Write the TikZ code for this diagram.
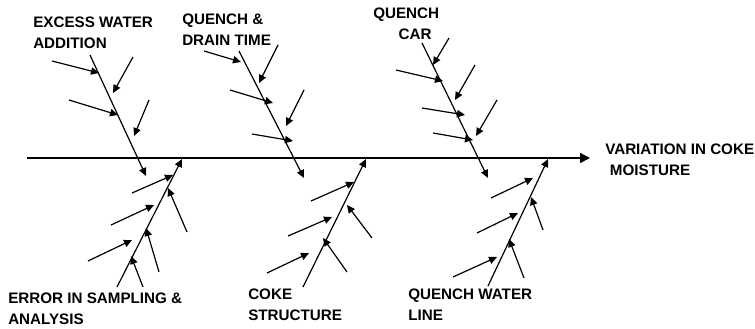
\documentclass[tikz,border=0pt]{standalone}
\usepackage{fontspec}
\setmainfont{Liberation Sans}
\usetikzlibrary{arrows.meta}
\begin{document}
\begin{tikzpicture}[x=0.75pt,y=-0.75pt,
  bone/.style={line width=0.9pt,-{Triangle[length=6pt,width=5.5pt]}},
  spine/.style={line width=1.1pt,-{Triangle[length=7.5pt,width=7.5pt]}},
  lab/.style={font=\bfseries\fontsize{11.4}{15.4}\selectfont, align=left, inner sep=0pt, anchor=north west}]
\useasboundingbox (0,0) rectangle (755,328);
% spine
\coordinate (s0) at (27,158);
\coordinate (s1) at (590,158);
\draw[spine] (s0) -- (s1);
% labels
\node[lab] (l1) at (33,17) {EXCESS WATER\\ADDITION};
\node[lab] (l2) at (182,14) {QUENCH \&\\DRAIN TIME};
\node[lab] (l3) at (373,8) {QUENCH\\\hspace*{19pt}CAR};
\node[lab] (l4) at (605,144) {VARIATION IN COKE\\\hspace*{3.5pt}MOISTURE};
\node[lab] (l5) at (8,293) {ERROR IN SAMPLING \&\\ANALYSIS};
\node[lab] (l6) at (248,289) {COKE\\STRUCTURE};
\node[lab] (l7) at (408,289) {QUENCH WATER\\LINE};
% bone 1
\coordinate (b1s) at (90,55);  \coordinate (b1e) at (146,176);
\draw[bone] (b1s) -- (b1e);
\coordinate (b1as) at (52,61);  \coordinate (b1ae) at (99,73);
\coordinate (b1bs) at (133,57); \coordinate (b1be) at (113,93);
\coordinate (b1cs) at (69,100); \coordinate (b1ce) at (118,115);
\coordinate (b1ds) at (149,100);\coordinate (b1de) at (134,136);
\draw[bone] (b1as) -- (b1ae);
\draw[bone] (b1bs) -- (b1be);
\draw[bone] (b1cs) -- (b1ce);
\draw[bone] (b1ds) -- (b1de);
% bone 2
\coordinate (b2s) at (239,51);  \coordinate (b2e) at (304,178);
\draw[bone] (b2s) -- (b2e);
\coordinate (b2as) at (204,51); \coordinate (b2ae) at (241,62);
\coordinate (b2bs) at (278,45); \coordinate (b2be) at (259,83);
\coordinate (b2cs) at (230,90); \coordinate (b2ce) at (273,103);
\coordinate (b2ds) at (304,90); \coordinate (b2de) at (286,126);
\coordinate (b2es) at (252,134);\coordinate (b2ee) at (293,141);
\draw[bone] (b2as) -- (b2ae);
\draw[bone] (b2bs) -- (b2be);
\draw[bone] (b2cs) -- (b2ce);
\draw[bone] (b2ds) -- (b2de);
\draw[bone] (b2es) -- (b2ee);
% bone 3
\coordinate (b3s) at (422,43);  \coordinate (b3e) at (488,178);
\draw[bone] (b3s) -- (b3e);
\coordinate (b3as) at (449,38); \coordinate (b3ae) at (433,65);
\coordinate (b3bs) at (396,70); \coordinate (b3be) at (443,81);
\coordinate (b3cs) at (475,65); \coordinate (b3ce) at (455,100);
\coordinate (b3ds) at (422,108);\coordinate (b3de) at (465,115);
\coordinate (b3es) at (497,100);\coordinate (b3ee) at (476,136);
\coordinate (b3fs) at (433,133);\coordinate (b3fe) at (473,140);
\draw[bone] (b3as) -- (b3ae);
\draw[bone] (b3bs) -- (b3be);
\draw[bone] (b3cs) -- (b3ce);
\draw[bone] (b3ds) -- (b3de);
\draw[bone] (b3es) -- (b3ee);
\draw[bone] (b3fs) -- (b3fe);
% bone 4
\coordinate (b4s) at (117,287); \coordinate (b4e) at (182,159);
\draw[bone] (b4s) -- (b4e);
\coordinate (b4as) at (132,193);\coordinate (b4ae) at (173,175);
\coordinate (b4bs) at (187,232);\coordinate (b4be) at (168,188);
\coordinate (b4cs) at (111,225);\coordinate (b4ce) at (154,205);
\coordinate (b4ds) at (159,272);\coordinate (b4de) at (146,228);
\coordinate (b4es) at (88,261); \coordinate (b4ee) at (132,240);
\coordinate (b4fs) at (143,287);\coordinate (b4fe) at (131,256);
\draw[bone] (b4as) -- (b4ae);
\draw[bone] (b4bs) -- (b4be);
\draw[bone] (b4cs) -- (b4ce);
\draw[bone] (b4ds) -- (b4de);
\draw[bone] (b4es) -- (b4ee);
\draw[bone] (b4fs) -- (b4fe);
% bone 5
\coordinate (b5s) at (303,287); \coordinate (b5e) at (366,159);
\draw[bone] (b5s) -- (b5e);
\coordinate (b5as) at (311,201);\coordinate (b5ae) at (354,182);
\coordinate (b5bs) at (372,238);\coordinate (b5be) at (347,205);
\coordinate (b5cs) at (288,236);\coordinate (b5ce) at (332,217);
\coordinate (b5ds) at (347,272);\coordinate (b5de) at (323,238);
\coordinate (b5es) at (267,273);\coordinate (b5ee) at (309,253);
\draw[bone] (b5as) -- (b5ae);
\draw[bone] (b5bs) -- (b5be);
\draw[bone] (b5cs) -- (b5ce);
\draw[bone] (b5ds) -- (b5de);
\draw[bone] (b5es) -- (b5ee);
% bone 6
\coordinate (b6s) at (488,286); \coordinate (b6e) at (548,159);
\draw[bone] (b6s) -- (b6e);
\coordinate (b6as) at (491,198);\coordinate (b6ae) at (533,178);
\coordinate (b6bs) at (543,230);\coordinate (b6be) at (531,197);
\coordinate (b6cs) at (477,233);\coordinate (b6ce) at (518,213);
\coordinate (b6ds) at (524,278);\coordinate (b6de) at (509,239);
\coordinate (b6es) at (453,277);\coordinate (b6ee) at (497,257);
\draw[bone] (b6as) -- (b6ae);
\draw[bone] (b6bs) -- (b6be);
\draw[bone] (b6cs) -- (b6ce);
\draw[bone] (b6ds) -- (b6de);
\draw[bone] (b6es) -- (b6ee);
\end{tikzpicture}
\end{document}
